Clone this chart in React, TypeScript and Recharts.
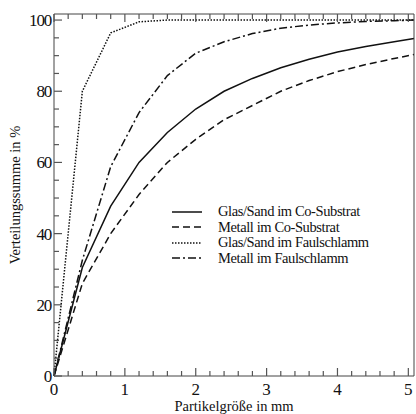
import { LineChart, Line, XAxis, YAxis } from "recharts";

// particle size in mm
const sizes = [0, 0.4, 0.8, 1.2, 1.6, 2.0, 2.4, 2.8, 3.2, 3.6, 4.0, 4.4, 4.8, 5.08];

const glasCo = [0, 30.5, 47.7, 60, 68.4, 75, 80, 83.6, 86.6, 89, 91, 92.6, 93.9, 94.8];
const metallCo = [0, 26, 40, 51, 60, 66.5, 72, 76, 80, 83, 85.5, 87.5, 89.2, 90.3];
const glasFaul = [0, 80, 96.4, 99.5, 100, 100, 100, 100, 100, 100, 100, 100, 100, 100];
const metallFaul = [0, 32.5, 58.8, 74, 84.4, 90.7, 93.9, 96.2, 97.7, 98.6, 99.2, 99.6, 99.8, 100];

const xTicks = [0, 0.2, 0.4, 0.6, 0.8, 1, 1.2, 1.4, 1.6, 1.8, 2, 2.2, 2.4, 2.6, 2.8, 3, 3.2, 3.4, 3.6, 3.8, 4, 4.2, 4.4, 4.6, 4.8, 5];
const yTicks = [0, 5, 10, 15, 20, 25, 30, 35, 40, 45, 50, 55, 60, 65, 70, 75, 80, 85, 90, 95, 100];

const series = [
  { key: "glasCo", name: "Glas/Sand im Co-Substrat", values: glasCo, dash: undefined },
  { key: "metallCo", name: "Metall im Co-Substrat", values: metallCo, dash: "7 4" },
  { key: "glasFaul", name: "Glas/Sand im Faulschlamm", values: glasFaul, dash: "1.5 1.5" },
  { key: "metallFaul", name: "Metall im Faulschlamm", values: metallFaul, dash: "8 3 2 3" },
];

const data = sizes.map((x, i) => {
  const row: any = { x };
  series.forEach((s) => (row[s.key] = s.values[i]));
  return row;
});

const FONT = "'Liberation Serif', 'Times New Roman', serif";
const FRAME = "#444";
const TICK = "#555";
const INK = "#111";

const isMajorX = (v: number) => Math.abs(v - Math.round(v)) < 1e-6;
const isMajorY = (v: number) => v % 20 === 0;

function BottomTick(props: any) {
  const { x, y, payload } = props;
  const major = isMajorX(payload.value);
  return (
    <g>
      <line x1={x} x2={x} y1={y} y2={y - (major ? 8 : 5)} stroke={TICK} strokeWidth={1.2} />
      {major && (
        <text x={x} y={y + 19} textAnchor="middle" fontSize={17} fontFamily={FONT} fill={INK}>
          {payload.value}
        </text>
      )}
    </g>
  );
}

function TopTick(props: any) {
  const { x, y, payload } = props;
  const major = isMajorX(payload.value);
  return <line x1={x} x2={x} y1={y} y2={y + (major ? 8 : 5)} stroke={TICK} strokeWidth={1.2} />;
}

function LeftTick(props: any) {
  const { x, y, payload } = props;
  const major = isMajorY(payload.value);
  return (
    <g>
      <line x1={x} x2={x + (major ? 8 : 5)} y1={y} y2={y} stroke={TICK} strokeWidth={1.2} />
      {major && (
        <text x={x - 3} y={y + 6} textAnchor="end" fontSize={17} letterSpacing={-1.2} fontFamily={FONT} fill={INK}>
          {payload.value}
        </text>
      )}
    </g>
  );
}

function RightTick(props: any) {
  const { x, y, payload } = props;
  const major = isMajorY(payload.value);
  return <line x1={x} x2={x - (major ? 8 : 5)} y1={y} y2={y} stroke={TICK} strokeWidth={1.2} />;
}

function LegendBox() {
  return (
    <div style={{ position: "absolute", left: 170, top: 204, fontFamily: FONT, fontSize: 14.5, color: INK }}>
      {series.map((s) => (
        <div key={s.key} style={{ display: "flex", alignItems: "center", height: 15.5 }}>
          <svg width={34} height={10} style={{ marginRight: 14 }}>
            <line x1={2} x2={32} y1={5} y2={5} stroke={INK} strokeWidth={1.5} strokeDasharray={s.dash} />
          </svg>
          <span style={{ letterSpacing: -0.4, whiteSpace: "nowrap" }}>{s.name}</span>
        </div>
      ))}
    </div>
  );
}

export default function App() {
  return (
    <div style={{ position: "absolute", left: 0, top: 0, width: 416, height: 414, background: "#fff" }}>
      <LineChart width={416} height={414} data={data} margin={{ top: 13, right: 1, left: 0, bottom: 0 }}>
        <XAxis
          dataKey="x"
          type="number"
          domain={[0, 5.08]}
          ticks={xTicks}
          interval={0}
          height={38}
          tickSize={0}
          tickMargin={0}
          tickLine={false}
          tick={BottomTick}
          axisLine={{ stroke: FRAME }}
          label={{ value: "Partikelgröße in mm", position: "insideBottom", offset: 0, dy: -3, fontSize: 14.5, fontFamily: FONT, fill: INK }}
        />
        <XAxis
          xAxisId="top"
          orientation="top"
          dataKey="x"
          type="number"
          domain={[0, 5.08]}
          ticks={xTicks}
          interval={0}
          height={1}
          tickSize={0}
          tickMargin={0}
          tickLine={false}
          tick={TopTick}
          axisLine={{ stroke: FRAME }}
        />
        <YAxis
          type="number"
          domain={[0, 101.7]}
          ticks={yTicks}
          interval={0}
          width={54}
          tickSize={0}
          tickMargin={0}
          tickLine={false}
          tick={LeftTick}
          axisLine={{ stroke: FRAME }}
          label={{ value: "Verteilungssumme in %", angle: -90, position: "insideLeft", offset: 0, dx: 15, fontSize: 14.5, fontFamily: FONT, fill: INK, style: { textAnchor: "middle" } }}
        />
        <YAxis
          yAxisId="right"
          orientation="right"
          type="number"
          domain={[0, 101.7]}
          ticks={yTicks}
          interval={0}
          width={1}
          tickSize={0}
          tickMargin={0}
          tickLine={false}
          tick={RightTick}
          axisLine={{ stroke: FRAME }}
        />
        {series.map((s) => (
          <Line
            key={s.key}
            dataKey={s.key}
            name={s.name}
            type="linear"
            stroke={INK}
            strokeWidth={1.5}
            strokeDasharray={s.dash}
            dot={false}
            isAnimationActive={false}
          />
        ))}
      </LineChart>
      <LegendBox />
    </div>
  );
}
